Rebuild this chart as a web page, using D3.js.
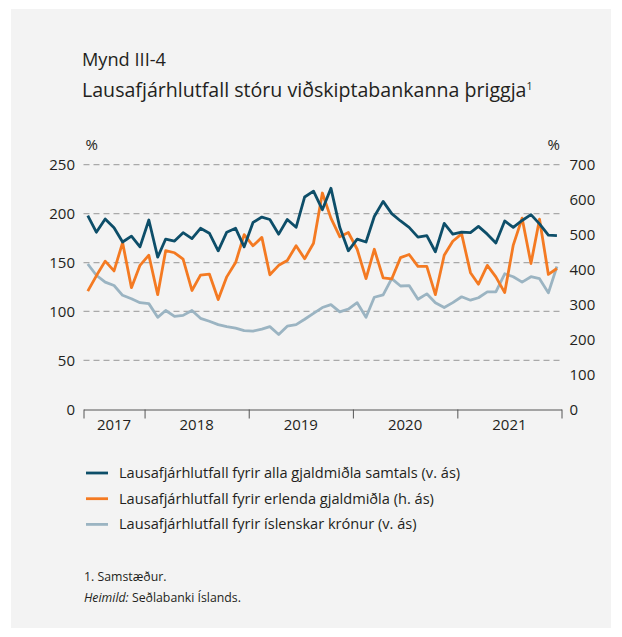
<!DOCTYPE html>
<html>
<head>
<meta charset="utf-8">
<script src="https://cdn.jsdelivr.net/npm/d3@7"></script>
<style>
  body { margin: 0; background: #fff; }
  svg { display: block; font-family: "Open Sans", sans-serif; }
</style>
</head>
<body>
<svg id="chart" width="622" height="637"></svg>
<script>
// monthly data, Jun 2017 - Dec 2021
var months = d3.timeMonth.range(new Date(2017, 5, 1), new Date(2022, 0, 1));
var years = [2017, 2018, 2019, 2020, 2021];

// heild (v. ás)
var total = [198, 181, 194.5, 185.5, 171, 177, 166, 193.5, 155.5, 174, 172, 180.5, 174.5,
  185, 180, 162, 181, 185, 166, 191, 196.5, 194, 179, 194, 186, 217, 223, 204, 226,
  186, 162, 174, 171, 197, 212.5, 200, 192.5, 186, 176, 177.5, 161, 190, 179, 181,
  180.5, 187, 179, 170, 192.5, 186, 193, 199, 189.5, 178, 177.5];
// erlendir gjaldmiðlar (h. ás)
var foreign = [338, 382, 424, 396, 477, 348, 412, 441, 328, 454, 448, 430, 340,
  384, 387, 314, 379, 420, 500, 468, 492, 385, 412, 426, 468, 431, 475, 619, 547,
  494, 506, 458, 374, 458, 376, 373, 434, 443, 409, 409, 328, 441, 481, 502,
  391, 358, 412, 379, 334, 470, 547, 417, 544, 386, 403];
// íslenskar krónur (v. ás)
var isk = [148.5, 137, 130, 126.5, 116.5, 113, 109, 108, 94, 101, 95, 96, 101,
  93, 90, 86.5, 84.5, 83, 80.5, 80, 82, 84.5, 76.5, 85, 86.5, 92, 98, 104, 107,
  99.5, 102.5, 109, 94, 114.5, 117, 133.5, 126, 126.5, 112.5, 118, 109, 104, 109, 115,
  111.5, 114, 120, 120, 138.5, 135.5, 130, 135.5, 133.5, 119, 146];

var leftTicks = [0, 50, 100, 150, 200, 250];
var rightTicks = [0, 100, 200, 300, 400, 500, 600, 700];

var series = [
  {name: "Lausafjárhlutfall fyrir alla gjaldmiðla samtals (v. ás)", values: total, axis: "left", color: "#0d4e69"},
  {name: "Lausafjárhlutfall fyrir erlenda gjaldmiðla (h. ás)", values: foreign, axis: "right", color: "#f47a22"},
  {name: "Lausafjárhlutfall fyrir íslenskar krónur (v. ás)", values: isk, axis: "left", color: "#9bb4c2"}
];

var svg = d3.select("#chart");
var textColor = "#231f20";

// panel
svg.append("rect").attr("x", 11).attr("y", 9).attr("width", 600).attr("height", 619).attr("fill", "#f3f3f3");

var x = d3.scaleTime().domain([new Date(2017, 5, 1), new Date(2022, 0, 1)]).range([83.5, 561.5]);
var yL = d3.scaleLinear().domain([0, 250]).range([409.3, 164.7]);
var yR = d3.scaleLinear().domain([0, 700]).range([409.3, 164.7]);

function mid(d) { return d3.timeDay.offset(d, 15); }

// titles
svg.append("text").attr("x", 82).attr("y", 66).attr("font-size", 18.2).attr("fill", textColor).text("Mynd III-4");
var title = svg.append("text").attr("x", 82).attr("y", 97).attr("font-size", 19.6).attr("fill", textColor)
  .text("Lausafjárhlutfall stóru viðskiptabankanna þriggja");
title.append("tspan").attr("font-size", 10.5).attr("dy", -7.5).text("1");

// gridlines
svg.append("g").selectAll("line")
  .data(leftTicks.filter(d => d > 0))
  .join("line")
  .attr("x1", 83.5).attr("x2", 561.5)
  .attr("y1", d => yL(d)).attr("y2", d => yL(d))
  .attr("stroke", "#a9a9a9").attr("stroke-width", 1.3).attr("stroke-dasharray", "6,4");

// left axis
var gL = svg.append("g").attr("transform", "translate(83.5,0)")
  .call(d3.axisLeft(yL).tickValues(leftTicks).tickSize(0).tickPadding(8.5));
gL.select(".domain").remove();
gL.selectAll("text").attr("font-size", 15).attr("fill", textColor).attr("font-family", "Open Sans");

// right axis
var gR = svg.append("g").attr("transform", "translate(561.5,0)")
  .call(d3.axisRight(yR).tickValues(rightTicks).tickSize(0).tickPadding(8));
gR.select(".domain").remove();
gR.selectAll("text").attr("font-size", 15).attr("fill", textColor).attr("font-family", "Open Sans");

svg.append("text").attr("x", 85.5).attr("y", 150).attr("font-size", 15).attr("fill", textColor).text("%");
svg.append("text").attr("x", 547.5).attr("y", 150).attr("font-size", 15).attr("fill", textColor).text("%");

// x axis
var bounds = [new Date(2017, 5, 1)].concat(years.slice(1).map(y => new Date(y, 0, 1)), [new Date(2022, 0, 1)]);
var gX = svg.append("g").attr("transform", "translate(0,409.5)")
  .call(d3.axisBottom(x).tickValues(bounds).tickFormat("").tickSize(9).tickSizeOuter(0));
gX.selectAll("path, line").attr("stroke", "#555").attr("stroke-width", 1);

svg.append("g").selectAll("text")
  .data(years)
  .join("text")
  .attr("x", (d, i) => (x(bounds[i]) + x(bounds[i + 1])) / 2)
  .attr("y", 429.5)
  .attr("text-anchor", "middle")
  .attr("font-size", 15).attr("fill", textColor)
  .text(d => d);

// lines (draw light blue first, then orange, then dark)
[series[2], series[1], series[0]].forEach(function(s) {
  var y = s.axis === "left" ? yL : yR;
  var line = d3.line()
    .x((d, i) => x(mid(months[i])))
    .y(d => y(d));
  svg.append("path")
    .attr("d", line(s.values))
    .attr("fill", "none")
    .attr("stroke", s.color)
    .attr("stroke-width", 2.8)
    .attr("stroke-linejoin", "round");
});

// legend
var leg = svg.append("g").selectAll("g")
  .data(series)
  .join("g")
  .attr("transform", (d, i) => "translate(86," + (473 + i * 25.7) + ")");
leg.append("line").attr("x1", 0).attr("x2", 22).attr("stroke", d => d.color).attr("stroke-width", 2.8);
leg.append("text").attr("x", 33).attr("y", 5).attr("font-size", 14.6).attr("fill", textColor).text(d => d.name);

// footnotes
svg.append("text").attr("x", 84).attr("y", 581).attr("font-size", 12.3).attr("fill", textColor).text("1. Samstæður.");
var src = svg.append("text").attr("x", 84).attr("y", 602).attr("font-size", 12.3).attr("fill", textColor);
src.append("tspan").attr("font-style", "italic").text("Heimild:");
src.append("tspan").text(" Seðlabanki Íslands.");
</script>
</body>
</html>
